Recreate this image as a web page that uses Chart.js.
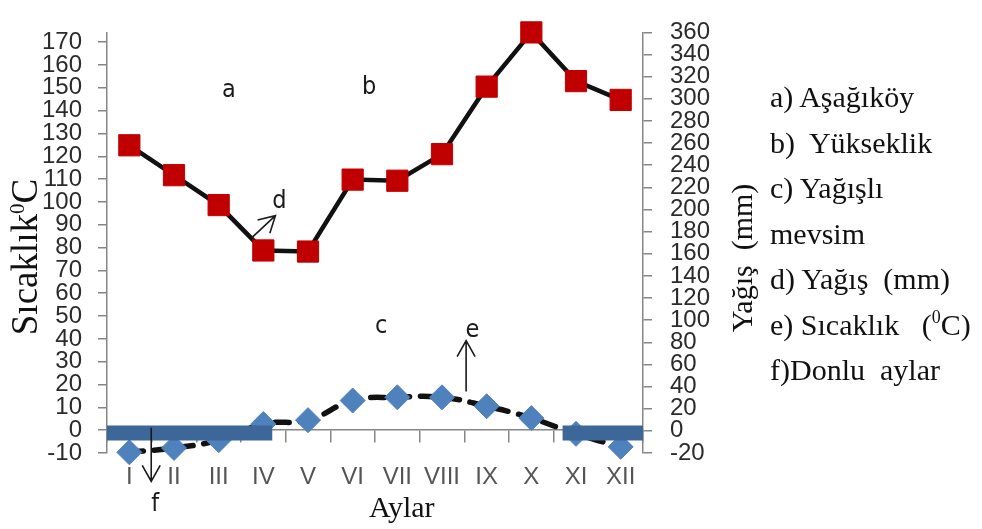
<!DOCTYPE html>
<html lang="tr">
<head>
<meta charset="UTF-8">
<title>Aşağıköy iklim diyagramı</title>
<script src="https://cdn.jsdelivr.net/npm/chart.js@4"></script>
<style>
    * {
        margin: 0;
        padding: 0;
        box-sizing: border-box;
    }

    body {
        width: 982px;
        height: 529px;
        background: #fff;
        overflow: hidden;
        position: relative;
    }

    .chart-box {
        position: absolute;
        left: 0;
        top: 0;
        width: 982px;
        height: 529px;
    }

    .legend {
        position: absolute;
        left: 770px;
        top: 74px;
        font-family: 'Liberation Serif', 'Times New Roman', serif;
        font-size: 30px;
        line-height: 45.5px;
        color: #111;
        white-space: pre;
    }

    .legend sup {
        font-size: 18px;
        line-height: 0;
        vertical-align: 0;
        position: relative;
        top: -12px;
    }
</style>
</head>
<body>
<div class="chart-box"><canvas id="climateChart"></canvas></div>
<div class="legend">a) Aşağıköy
b)  Yükseklik
c) Yağışlı
mevsim
d) Yağış  (mm)
e) Sıcaklık   (<sup>0</sup>C)
f)Donlu  aylar</div>

<script>
    // months (Aylar)
    const months = ['I', 'II', 'III', 'IV', 'V', 'VI', 'VII', 'VIII', 'IX', 'X', 'XI', 'XII'];

    // Yağış (mm) - right axis
    const precipitation = [258, 231, 204, 163, 162, 227, 226, 250, 311, 360, 316, 299];

    // Sıcaklık (°C) - left axis
    const temperature = [-9.7, -7.8, -4.4, 2.7, 4.4, 13.0, 14.4, 14.4, 10.5, 5.3, -1.6, -7.3];

    // Donlu aylar: spans in month units (0 = start of I, 12 = end of XII)
    const frostRanges = [[0, 3.7], [10.2, 12]];
    const frostLevel = -1.24;

    // axis ticks
    const leftTicks = [-10, 0, 10, 20, 30, 40, 50, 60, 70, 80, 90, 100, 110, 120, 130, 140, 150, 160, 170];
    const rightTicks = [-20, 0, 20, 40, 60, 80, 100, 120, 140, 160, 180, 200, 220, 240, 260, 280, 300, 320, 340, 360];

    const axisGray = '#868686';
    const tickFont = { family: "'Liberation Sans', Arial, sans-serif", size: 24 };
    const serif = "'Liberation Serif', 'Times New Roman', serif";
    const letterFont = "25px 'DejaVu Sans Condensed', 'DejaVu Sans', sans-serif";

    function arrow(ctx, x1, y1, x2, y2) {
        const ang = Math.atan2(y2 - y1, x2 - x1);
        const len = 16, half = 9;
        ctx.beginPath();
        ctx.moveTo(x1, y1);
        ctx.lineTo(x2, y2);
        const bx = x2 - len * Math.cos(ang), by = y2 - len * Math.sin(ang);
        const px = -Math.sin(ang) * half, py = Math.cos(ang) * half;
        ctx.moveTo(bx + px, by + py);
        ctx.lineTo(x2, y2);
        ctx.lineTo(bx - px, by - py);
        ctx.stroke();
    }

    // vertical title, reading bottom to top, parts can be superscript
    function verticalTitle(ctx, parts, baseX, centerY, size) {
        ctx.save();
        ctx.translate(baseX, centerY);
        ctx.rotate(-Math.PI / 2);
        ctx.textBaseline = 'alphabetic';
        ctx.textAlign = 'left';
        let total = 0;
        parts.forEach(p => {
            ctx.font = (p.sup ? Math.round(size * 0.58) : size) + 'px ' + serif;
            p.w = ctx.measureText(p.t).width;
            total += p.w;
        });
        let cx = -total / 2;
        parts.forEach(p => {
            ctx.font = (p.sup ? Math.round(size * 0.58) : size) + 'px ' + serif;
            ctx.fillText(p.t, cx, p.sup ? -size * 0.36 : 0);
            cx += p.w;
        });
        ctx.restore();
    }

    const overlay = {
        id: 'overlay',
        afterDraw(chart) {
            const { ctx } = chart;
            const x = chart.scales.x, y = chart.scales.y;
            const px = v => x.getPixelForValue(v);
            const py = v => y.getPixelForValue(v);

            ctx.save();
            ctx.fillStyle = '#1a1a1a';
            ctx.strokeStyle = '#1a1a1a';
            ctx.lineWidth = 1.6;

            // letters
            ctx.font = letterFont;
            ctx.textAlign = 'center';
            ctx.textBaseline = 'middle';
            [['a', 2.23, 149], ['b', 5.37, 150], ['c', 5.64, 45.5],
             ['d', 3.36, 100], ['e', 7.68, 43.5], ['f', 0.58, -32.5]].forEach(([t, i, v]) => {
                ctx.fillText(t, px(i), py(v));
            });

            // arrows
            arrow(ctx, px(2.75), py(84.5), px(3.27), py(94));
            arrow(ctx, px(7.54), py(16.9), px(7.54), py(39.2));
            arrow(ctx, px(0.49), py(1.1), px(0.49), py(-22.4));

            // axis titles
            ctx.fillStyle = '#111';
            ctx.font = '30px ' + serif;
            ctx.textAlign = 'center';
            ctx.textBaseline = 'alphabetic';
            ctx.fillText('Aylar', px(6.1), 517);

            verticalTitle(ctx, [{ t: 'Sıcaklık' }, { t: '0', sup: true }, { t: 'C' }], 37, 257, 37);
            verticalTitle(ctx, [{ t: 'Yağış  (mm)' }], 752, 258, 30);
            ctx.restore();
        }
    };

    const datasets = [];

    // frost bands on top
    frostRanges.forEach(r => {
        datasets.push({
            label: 'Donlu aylar',
            xAxisID: 'xf',
            yAxisID: 'y',
            data: [{ x: r[0], y: frostLevel }, { x: r[1], y: frostLevel }],
            borderColor: '#3d6699',
            borderWidth: 15,
            borderCapStyle: 'butt',
            pointRadius: 0,
            clip: false
        });
    });
    datasets.push({
        label: 'Donlu aylar (iç)',
        xAxisID: 'xf',
        yAxisID: 'y',
        data: [{ x: frostRanges[1][0] + 0.15, y: frostLevel }, { x: frostRanges[1][1] - 0.1, y: frostLevel }],
        borderColor: '#6f93c2',
        borderWidth: 1.5,
        pointRadius: 0
    });

    datasets.push({
        label: 'Sıcaklık',
        xAxisID: 'x',
        yAxisID: 'y',
        data: temperature,
        borderColor: '#111',
        borderWidth: 5.5,
        borderDash: [14, 11],
        borderCapStyle: 'round',
        tension: 0.45,
        pointStyle: 'rectRot',
        pointRadius: 12.5,
        pointBackgroundColor: '#4f81bd',
        pointBorderColor: '#4f81bd',
        pointBorderWidth: 1,
        clip: false
    });

    datasets.push({
        label: 'Yağış',
        xAxisID: 'x',
        yAxisID: 'y1',
        data: precipitation,
        borderColor: '#111',
        borderWidth: 4.5,
        tension: 0,
        pointStyle: 'rect',
        pointRadius: 15,
        pointBackgroundColor: '#c00000',
        pointBorderColor: '#c00000',
        pointBorderWidth: 1,
        clip: false
    });

    new Chart(document.getElementById('climateChart'), {
        type: 'line',
        data: { labels: months, datasets: datasets },
        plugins: [overlay],
        options: {
            responsive: true,
            maintainAspectRatio: false,
            animation: false,
            events: [],
            layout: { padding: { top: 22, bottom: 76, left: 0, right: 0 } },
            plugins: {
                legend: { display: false },
                tooltip: { enabled: false }
            },
            scales: {
                x: {
                    type: 'category',
                    offset: true,
                    position: { y: 0 },
                    grid: { offset: true, drawOnChartArea: false, tickLength: 12, color: axisGray, lineWidth: 1.5 },
                    border: { color: axisGray, width: 1.5 },
                    ticks: { color: '#555', font: tickFont, padding: 21, autoSkip: false, maxRotation: 0 }
                },
                xf: {
                    type: 'linear',
                    min: 0,
                    max: 12,
                    display: false
                },
                y: {
                    position: 'left',
                    min: -10,
                    max: 174.3,
                    afterBuildTicks: s => { s.ticks = leftTicks.map(v => ({ value: v })); },
                    afterFit: s => { s.width = 107; },
                    grid: { drawOnChartArea: false, tickLength: 9, color: axisGray, lineWidth: 1.5 },
                    border: { color: axisGray, width: 1.5 },
                    ticks: { color: '#2b2b2b', font: tickFont, padding: 16, autoSkip: false }
                },
                y1: {
                    position: 'right',
                    min: -20,
                    max: 360,
                    afterBuildTicks: s => { s.ticks = rightTicks.map(v => ({ value: v })); },
                    afterFit: s => { s.width = 982 - 643; },
                    grid: { drawOnChartArea: false, tickLength: 9, color: axisGray, lineWidth: 1.5 },
                    border: { color: axisGray, width: 1.5 },
                    ticks: { color: '#2b2b2b', font: tickFont, padding: 18, autoSkip: false }
                }
            }
        }
    });
</script>
</body>
</html>
